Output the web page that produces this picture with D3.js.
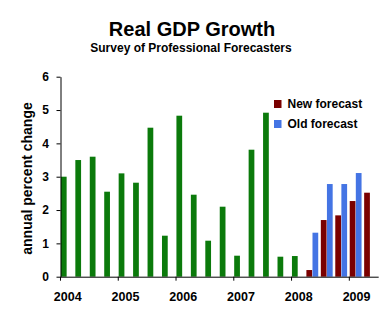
<!DOCTYPE html>
<html>
<head>
<meta charset="utf-8">
<script src="https://cdn.jsdelivr.net/npm/d3@7/dist/d3.min.js"></script>
<style>
  html, body { margin: 0; padding: 0; background: #fff; }
  svg { display: block; font-family: "Liberation Sans", Arial, sans-serif; }
</style>
</head>
<body>
<svg id="chart" width="383" height="325"></svg>
<script>
// ---- data ----
const quarters = [
  "2004Q1","2004Q2","2004Q3","2004Q4",
  "2005Q1","2005Q2","2005Q3","2005Q4",
  "2006Q1","2006Q2","2006Q3","2006Q4",
  "2007Q1","2007Q2","2007Q3","2007Q4",
  "2008Q1","2008Q2","2008Q3","2008Q4",
  "2009Q1","2009Q2"
];
const actual = [3.0, 3.5, 3.6, 2.55, 3.1, 2.82, 4.47, 1.23, 4.83, 2.46, 1.08, 2.1,
                0.63, 3.81, 4.92, 0.6, 0.62, null, null, null, null, null];
const newForecast = [null, null, null, null, null, null, null, null, null, null, null, null,
                     null, null, null, null, null, 0.2, 1.7, 1.84, 2.27, 2.52];
const oldForecast = [null, null, null, null, null, null, null, null, null, null, null, null,
                     null, null, null, null, null, 1.32, 2.78, 2.78, 3.11, null];
const yearLabels = ["2004","2005","2006","2007","2008","2009"];
const yTicks = [0, 1, 2, 3, 4, 5, 6];

const colors = { actual: "#0b7a0b", newF: "#7a0000", oldF: "#4474e4" };

// ---- layout ----
const svg = d3.select("#chart");
const plot = { left: 60.5, right: 378.2, top: 76.7, bottom: 276.7 };

const x = d3.scaleBand().domain(quarters).range([plot.left, plot.right]).padding(0);
const x1 = d3.scaleBand().domain(["main", "old"]).range([0.4, 12.6]).padding(0);
const barW = x1.bandwidth() * 0.94;
const y = d3.scaleLinear().domain([0, 6]).range([plot.bottom, plot.top]);

// ---- titles ----
svg.append("text").attr("x", 192).attr("y", 36)
  .attr("text-anchor", "middle").attr("font-size", 20).attr("font-weight", "bold")
  .text("Real GDP Growth");
svg.append("text").attr("x", 191).attr("y", 52)
  .attr("text-anchor", "middle").attr("font-size", 12).attr("font-weight", "bold")
  .text("Survey of Professional Forecasters");

// ---- bars ----
const g = svg.append("g");
function drawSeries(vals, slot, color) {
  g.selectAll(null)
    .data(quarters.map((q, i) => ({ q, v: vals[i] })).filter(d => d.v != null))
    .enter().append("rect")
    .attr("x", d => x(d.q) + x1(slot))
    .attr("width", barW)
    .attr("y", d => y(d.v))
    .attr("height", d => y(0) - y(d.v))
    .attr("fill", color);
}
drawSeries(actual, "main", colors.actual);
drawSeries(newForecast, "main", colors.newF);
drawSeries(oldForecast, "old", colors.oldF);

// ---- y axis ----
const yAxis = svg.append("g")
  .attr("transform", `translate(${plot.left},0)`)
  .call(d3.axisLeft(y).tickValues(yTicks).tickFormat(d3.format("d"))
        .tickSize(4).tickSizeOuter(0).tickPadding(7.5));
yAxis.select(".domain").attr("stroke", "#000");
yAxis.selectAll("text").attr("font-size", 12).attr("font-weight", "bold")
  .attr("font-family", "Liberation Sans, Arial, sans-serif").attr("fill", "#000");

// ---- x axis ----
const xAxis = svg.append("g")
  .attr("transform", `translate(0,${plot.bottom})`)
  .call(d3.axisBottom(x).tickValues(yearLabels.map(yr => yr + "Q1"))
        .tickFormat(q => q.slice(0, 4)).tickSize(4).tickSizeOuter(0).tickPadding(11));
xAxis.select(".domain").attr("stroke", "#000");
xAxis.selectAll(".tick line").attr("transform", `translate(${-x.bandwidth() / 2},0)`);
xAxis.selectAll("text").attr("font-size", 12.5).attr("font-weight", "bold")
  .attr("font-family", "Liberation Sans, Arial, sans-serif").attr("fill", "#000");

// ---- y axis title ----
svg.append("text")
  .attr("transform", "translate(31.5,178.5) rotate(-90)")
  .attr("text-anchor", "middle").attr("font-size", 14).attr("font-weight", "bold")
  .text("annual percent change");

// ---- legend ----
const legend = [
  { label: "New forecast", color: colors.newF },
  { label: "Old forecast", color: colors.oldF }
];
const lg = svg.append("g").attr("transform", "translate(274,100)");
legend.forEach((d, i) => {
  lg.append("rect").attr("x", 0).attr("y", i * 20).attr("width", 7.5).attr("height", 8)
    .attr("fill", d.color);
  lg.append("text").attr("x", 13.5).attr("y", i * 20 + 8.3)
    .attr("font-size", 12).attr("font-weight", "bold").text(d.label);
});
</script>
</body>
</html>
